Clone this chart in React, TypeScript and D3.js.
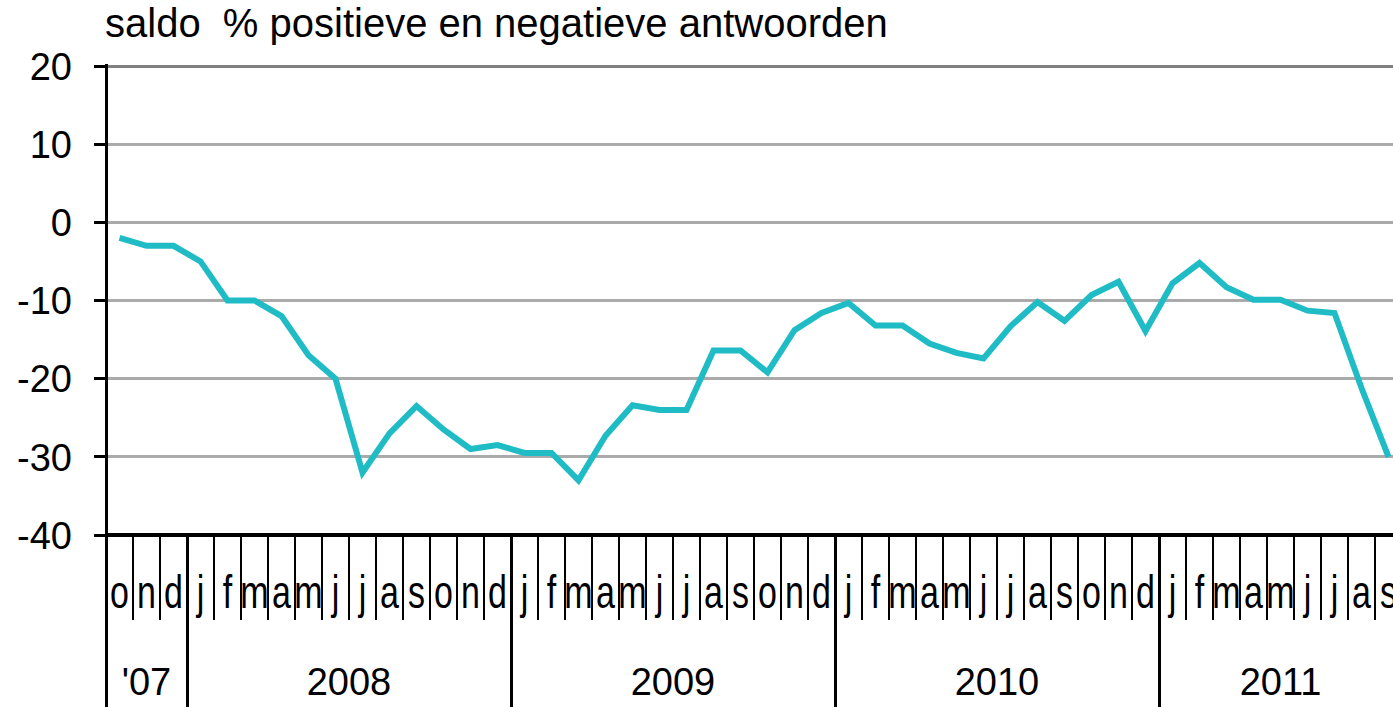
import React from "react";
import * as d3 from "d3";

const title = "saldo  % positieve en negatieve antwoorden";
const monthLabels = ["o", "n", "d",
  "j", "f", "m", "a", "m", "j", "j", "a", "s", "o", "n", "d",
  "j", "f", "m", "a", "m", "j", "j", "a", "s", "o", "n", "d",
  "j", "f", "m", "a", "m", "j", "j", "a", "s", "o", "n", "d",
  "j", "f", "m", "a", "m", "j", "j", "a", "s"];
const yearLabels = ["'07", "2008", "2009", "2010", "2011"];
const yearMonthCounts = [3, 12, 12, 12, 9];
const saldo = [-2, -3, -3,
  -5, -10, -10, -12, -17, -20, -32, -27, -23.5, -26.5, -29, -28.5,
  -29.5, -29.5, -33, -27.3, -23.4, -24, -24, -16.4, -16.4, -19.2, -13.8, -11.6,
  -10.3, -13.2, -13.2, -15.5, -16.7, -17.4, -13.3, -10.2, -12.6, -9.3, -7.6, -13.9,
  -7.8, -5.2, -8.3, -9.9, -9.9, -11.3, -11.6, -21.2, -30];
const yTicks = [20, 10, 0, -10, -20, -30, -40];

const W = 1393, H = 707;
const FONT = "'Liberation Sans', Arial, sans-serif";

export default function App() {
  const x0 = 106;
  const step = 27;
  const idx = monthLabels.map((_, i) => i);
  const x = d3.scaleBand<number>().domain(idx).range([x0, x0 + step * idx.length]).paddingInner(0).paddingOuter(0);
  const bw = x.bandwidth();
  const y = d3.scaleLinear().domain([-40, 20]).range([535, 66]);
  const line = d3.line<number>().x((_, i) => (x(i) as number) + bw / 2).y((d) => y(d));

  const boundaries: number[] = [];
  let acc = 0;
  const yearCenters = yearMonthCounts.map((c) => {
    const start = acc;
    acc += c;
    boundaries.push(acc);
    return (x(start)! + (acc < idx.length ? x(acc)! : x0 + step * acc)) / 2;
  });
  const isBoundary = (k: number) => k === 0 || boundaries.includes(k);

  return (
    <div style={{ position: "fixed", left: 0, top: 0, width: W, height: H, overflow: "hidden", background: "#fff" }}>
      <svg width={W} height={H} style={{ display: "block", fontFamily: FONT }}>
        <text x={105} y={37} fontSize={40} style={{ whiteSpace: "pre" }} fill="#000">{title}</text>
        {yTicks.filter((t) => t !== -40).map((t) => (
          <line key={"g" + t} x1={x0} x2={W} y1={y(t)} y2={y(t)} stroke={t === 20 ? "#808080" : "#aaaaaa"} strokeWidth={3} shapeRendering="crispEdges" />
        ))}
        {yTicks.map((t) => (
          <g key={"t" + t}>
            <line x1={94} x2={x0} y1={y(t)} y2={y(t)} stroke="#000" strokeWidth={3} shapeRendering="crispEdges" />
            <text x={72} y={y(t)} dy="0.36em" textAnchor="end" fontSize={38} fill="#000">{t}</text>
          </g>
        ))}
        {monthLabels.map((m, i) => (
          <text key={"m" + i} transform={`translate(${x(i)! + bw / 2},608) scale(1,1.35)`} textAnchor="middle" fontSize={34} fill="#000">{m}</text>
        ))}
        {d3.range(0, idx.length + 1).map((k) => {
          const xx = x0 + step * k;
          return (
            <line key={"mt" + k} x1={xx} x2={xx} y1={535} y2={isBoundary(k) ? 707 : 620} stroke="#000" strokeWidth={isBoundary(k) ? 3 : 2} shapeRendering="crispEdges" />
          );
        })}
        {yearLabels.map((yl, i) => (
          <text key={"y" + i} x={yearCenters[i]} y={695} textAnchor="middle" fontSize={38} fill="#000">{yl}</text>
        ))}
        <line x1={x0} x2={x0} y1={64} y2={707} stroke="#000" strokeWidth={3} shapeRendering="crispEdges" />
        <line x1={x0} x2={W} y1={535} y2={535} stroke="#000" strokeWidth={4} shapeRendering="crispEdges" />
        <path d={line(saldo) || ""} fill="none" stroke="#1fbcc6" strokeWidth={6} strokeLinejoin="miter" />
      </svg>
    </div>
  );
}
